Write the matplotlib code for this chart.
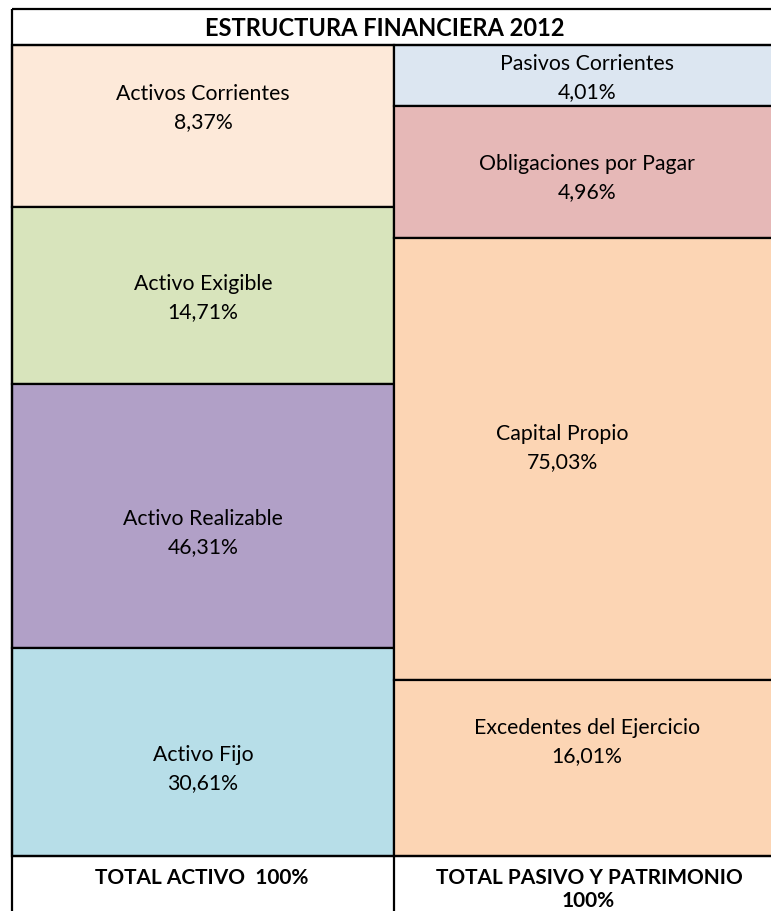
import matplotlib.pyplot as plt

titulo = "ESTRUCTURA FINANCIERA 2012"

activo_labels = ["Activos Corrientes", "Activo Exigible", "Activo Realizable", "Activo Fijo"]
activo_values = [8.37, 14.71, 46.31, 30.61]
activo_colors = ["#FDE9D9", "#D8E4BC", "#B1A0C7", "#B7DEE8"]

pasivo_labels = ["Pasivos Corrientes", "Obligaciones por Pagar", "Capital Propio", "Excedentes del Ejercicio"]
pasivo_values = [4.01, 4.96, 75.03, 16.01]
pasivo_colors = ["#DCE6F1", "#E6B8B7", "#FCD5B4", "#FCD5B4"]

total_activo = "TOTAL ACTIVO  100%"
total_pasivo = ["TOTAL PASIVO Y PATRIMONIO", "100%"]

# layout of the sheet (pixel rows/cols), not data
x_left, x_mid, x_right = 12, 394, 800
y_top, y_head = 10, 46
act_edges = [46, 208, 385, 649, 857]
pas_edges = [46, 107, 239, 681, 857]
act_text_y = [108, 298, 533, 769]
pas_text_y = [78, 178, 448, 742]
pas_text_x = [587, 587, 562, 587]


def pct(v):
    return f"{v:.2f}".replace(".", ",") + "%"


plt.rcParams['font.family'] = ['Lato', 'DejaVu Sans']

fig = plt.figure(figsize=(7.71, 9.12), dpi=100)
ax = fig.add_axes([0, 0, 1, 1])
ax.set_xlim(0, 771)
ax.set_ylim(912, 0)
ax.axis('off')

lw = 1.6
ax.bar([(x_left + x_mid) / 2] * 4, [b - a for a, b in zip(act_edges[:-1], act_edges[1:])],
       bottom=act_edges[:-1], width=x_mid - x_left, color=activo_colors,
       edgecolor='black', linewidth=lw)
ax.bar([(x_mid + x_right) / 2] * 4, [b - a for a, b in zip(pas_edges[:-1], pas_edges[1:])],
       bottom=pas_edges[:-1], width=x_right - x_mid, color=pasivo_colors,
       edgecolor='black', linewidth=lw)

ax.hlines([y_top, y_head, act_edges[-1]], x_left, x_right, color='black', lw=lw)
ax.vlines(x_left, y_top, 920, color='black', lw=lw)
ax.vlines(x_mid, act_edges[-1], 920, color='black', lw=lw)

ax.text(385, (y_top + y_head) / 2 + 1, titulo, ha='center', va='center',
        fontsize=17, fontweight='bold')

for lab, v, y in zip(activo_labels, activo_values, act_text_y):
    ax.text((x_left + x_mid) / 2, y, lab + "\n" + pct(v), ha='center', va='center',
            fontsize=15.3, linespacing=1.45)
for lab, v, y, x in zip(pasivo_labels, pasivo_values, pas_text_y, pas_text_x):
    ax.text(x, y, lab + "\n" + pct(v), ha='center', va='center',
            fontsize=15.3, linespacing=1.45)

ax.text(202, 878, total_activo, ha='center', va='center', fontsize=15, fontweight='bold')
ax.text(589, 878, total_pasivo[0], ha='center', va='center', fontsize=15, fontweight='bold')
ax.text(588, 901, total_pasivo[1], ha='center', va='center', fontsize=15, fontweight='bold')

fig.savefig("out.png", dpi=100)
